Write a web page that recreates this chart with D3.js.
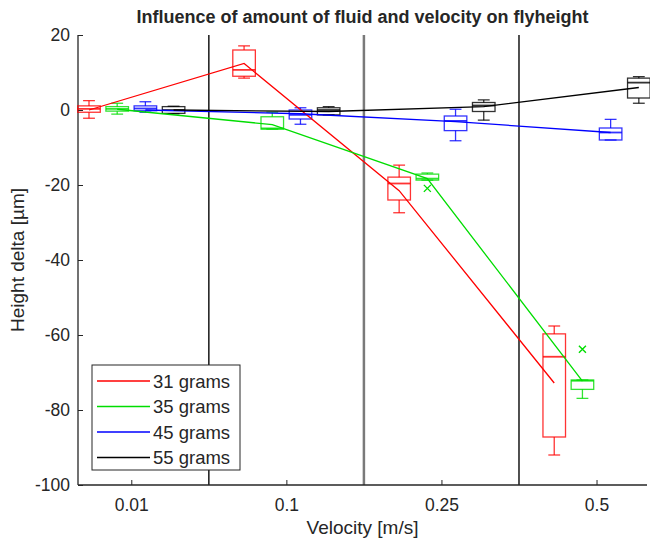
<!DOCTYPE html>
<html>
<head>
<meta charset="utf-8">
<script src="https://cdn.jsdelivr.net/npm/d3@7"></script>
<style>
  html, body { margin: 0; padding: 0; background: #fff; }
  svg text { font-family: "Liberation Sans", Arial, Helvetica, sans-serif; fill: #262626; }
</style>
</head>
<body>
<svg id="chart" width="650" height="545"></svg>
<script>
// Velocity groups along the x axis
const velocities = ["0.01", "0.1", "0.25", "0.5"];
// Fluid amounts (one box per amount inside each velocity group)
const series = ["31 grams", "35 grams", "45 grams", "55 grams"];
const colors = ["#ff0000", "#00dd00", "#0000ff", "#000000"];
const yTicks = [-100, -80, -60, -40, -20, 0, 20];

// Box statistics per amount, one entry per velocity: [lower whisker, q1, median, q3, upper whisker]
const stats31 = [[-2.2, -0.6, 0.3, 1.1, 2.5], [8.5, 9.0, 10.7, 16.0, 17.1], [-27.4, -24.0, -19.6, -17.9, -14.7], [-92.0, -87.2, -65.8, -59.7, -57.6]];
const stats35 = [[-1.1, -0.3, 0.3, 0.9, 1.8], [-5.1, -5.1, -4.9, -1.8, -0.6], [-18.7, -18.7, -18.3, -17.1, -16.8], [-76.9, -74.5, -72.2, -72.0, -72.0]];
const stats45 = [[-0.6, -0.2, 0.4, 1.1, 2.2], [-3.8, -2.4, -1.3, 0.0, 0.6], [-8.2, -5.5, -2.9, -1.6, 0.2], [-8.0, -8.0, -6.0, -4.8, -2.5]];
const stats55 = [[-1.0, -0.9, 0.0, 0.9, 1.0], [-1.3, -1.3, 0.0, 0.6, 0.9], [-2.7, -0.4, 1.2, 2.0, 2.7], [1.8, 3.2, 7.3, 8.5, 8.9]];
// Mean height delta per velocity (connecting lines)
const mean31 = [0.0, 12.4, -21.5, -72.8];
const mean35 = [0.2, -3.9, -18.3, -72.3];
const mean45 = [0.0, -1.0, -3.1, -6.0];
const mean55 = [0.0, -0.4, 0.9, 6.0];
// Outliers: [amount index, velocity index, value]
const outliers = [[1, 2, -20.9], [1, 3, -63.8]];

const allStats = [stats31, stats35, stats45, stats55];
const allMeans = [mean31, mean35, mean45, mean55];

const svg = d3.select("#chart");
const plotL = 78, plotR = 647, plotT = 35, plotB = 485;
const groupStep = 5.5;          // slot units between velocity groups
const pos = (s, g) => g * groupStep + s;

const x = d3.scaleLinear().domain([-0.39, 19.79]).range([plotL, plotR]);
const y = d3.scaleLinear().domain([-100, 20]).range([plotB, plotT]);
const unit = x(1) - x(0);
const boxW = 0.8 * unit, capW = 0.42 * unit;

// Group separators
[0, 1, 2].forEach(g => {
  svg.append("line")
    .attr("x1", x(g * groupStep + 4.25)).attr("x2", x(g * groupStep + 4.25))
    .attr("y1", plotT).attr("y2", plotB)
    .attr("stroke", g === 1 ? "#7a7a7a" : "#262626")
    .attr("stroke-width", g === 1 ? 2.5 : 1.6);
});

// Axes (plain hyphen for negative labels)
const yAxis = d3.axisLeft(y).tickValues(yTicks).tickFormat(d => String(d)).tickSize(-5).tickPadding(8);
const gy = svg.append("g").attr("transform", `translate(${plotL},0)`).call(yAxis);
const xAxis = d3.axisBottom(x).tickValues(velocities.map((v, g) => g * groupStep + 1.5))
  .tickFormat((d, i) => velocities[i]).tickSize(-5).tickPadding(14);
const gx = svg.append("g").attr("transform", `translate(0,${plotB})`).call(xAxis);
[gx, gy].forEach(g => {
  g.select(".domain").attr("stroke", "#262626").attr("stroke-width", 1.3);
  g.selectAll(".tick line").attr("stroke", "#262626").attr("stroke-width", 1);
  g.selectAll("text").attr("font-size", 17.5).attr("fill", "#262626")
    .attr("font-family", "'Liberation Sans', Arial, sans-serif");
});
gx.select(".domain").attr("d", `M${plotL},0H${plotR}`);
gy.select(".domain").attr("d", `M0,${plotT}V${plotB}`);

// Boxes
allStats.forEach((st, s) => {
  const col = colors[s];
  st.forEach((b, g) => {
    const cx = x(pos(s, g));
    const grp = svg.append("g").attr("stroke", col).attr("fill", "none")
      .attr("stroke-width", 1.3).attr("stroke-opacity", 0.8);
    grp.append("rect").attr("x", cx - boxW / 2).attr("width", boxW)
      .attr("y", y(b[3])).attr("height", Math.max(0.5, y(b[1]) - y(b[3])));
    grp.append("line").attr("x1", cx - boxW / 2).attr("x2", cx + boxW / 2)
      .attr("y1", y(b[2])).attr("y2", y(b[2])).attr("stroke-width", 1.8);
    grp.append("line").attr("x1", cx).attr("x2", cx).attr("y1", y(b[4])).attr("y2", y(b[3]));
    grp.append("line").attr("x1", cx).attr("x2", cx).attr("y1", y(b[1])).attr("y2", y(b[0]));
    grp.append("line").attr("x1", cx - capW / 2).attr("x2", cx + capW / 2).attr("y1", y(b[4])).attr("y2", y(b[4]));
    grp.append("line").attr("x1", cx - capW / 2).attr("x2", cx + capW / 2).attr("y1", y(b[0])).attr("y2", y(b[0]));
  });
});

// Outlier markers
outliers.forEach(([s, g, v]) => {
  const cx = x(pos(s, g)), cy = y(v), r = 3.5;
  svg.append("path")
    .attr("d", `M${cx - r},${cy - r}L${cx + r},${cy + r}M${cx - r},${cy + r}L${cx + r},${cy - r}`)
    .attr("stroke", colors[s]).attr("stroke-width", 1.4);
});

// Mean lines
const line = d3.line().x(d => x(d[0])).y(d => y(d[1]));
allMeans.forEach((m, s) => {
  svg.append("path")
    .attr("d", line(m.map((v, g) => [pos(s, g), v])))
    .attr("fill", "none").attr("stroke", colors[s]).attr("stroke-width", 1.3);
});

// Title and axis labels
svg.append("text").attr("x", (plotL + plotR) / 2).attr("y", 23)
  .attr("text-anchor", "middle").attr("font-size", 18).attr("font-weight", "bold")
  .attr("fill", "#000").text("Influence of amount of fluid and velocity on flyheight");
svg.append("text").attr("x", (plotL + plotR) / 2).attr("y", 534)
  .attr("text-anchor", "middle").attr("font-size", 19).text("Velocity [m/s]");
svg.append("text").attr("transform", `translate(24,${(plotT + plotB) / 2}) rotate(-90)`)
  .attr("text-anchor", "middle").attr("font-size", 19).text("Height delta [µm]");

// Legend
const lg = svg.append("g").attr("transform", "translate(92,365)");
lg.append("rect").attr("width", 148).attr("height", 105)
  .attr("fill", "#fff").attr("stroke", "#262626").attr("stroke-width", 1);
series.forEach((name, s) => {
  const ly = 16 + s * 25.5;
  lg.append("line").attr("x1", 5).attr("x2", 58).attr("y1", ly).attr("y2", ly)
    .attr("stroke", colors[s]).attr("stroke-width", 1.3);
  lg.append("text").attr("x", 61).attr("y", ly + 6.5).attr("font-size", 18.5).text(name);
});
</script>
</body>
</html>
